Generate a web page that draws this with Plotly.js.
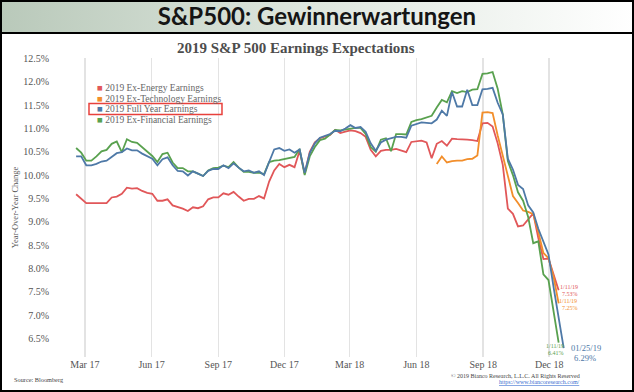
<!DOCTYPE html>
<html>
<head>
<meta charset="utf-8">
<script src="https://cdn.plot.ly/plotly-3.0.1.min.js"></script>
<style>
html,body{margin:0;padding:0;background:#ffffff;}
#wrap{position:relative;width:634px;height:392px;overflow:hidden;background:#ffffff;}
#hdr{position:absolute;left:0;top:0;width:634px;height:33px;background:linear-gradient(to right,#b9c9ba 0%,#dfe7df 50%,#ffffff 100%);}
#chart{position:absolute;left:0;top:0;width:634px;height:392px;}
#frame{position:absolute;left:0;top:0;width:634px;height:392px;box-sizing:border-box;border:2px solid #000;pointer-events:none;}
#hline{position:absolute;left:0;top:32px;width:634px;height:2px;background:#000;pointer-events:none;}
</style>
</head>
<body>
<div id="wrap"><div id="hdr"></div><div id="chart"></div><div id="frame"></div><div id="hline"></div></div>
<script>
// weekly observation dates
const weeks = [
 '2017-02-17','2017-02-24','2017-03-03','2017-03-10','2017-03-17','2017-03-24','2017-03-31','2017-04-07','2017-04-14','2017-04-21',
 '2017-04-28','2017-05-05','2017-05-12','2017-05-19','2017-05-26','2017-06-02','2017-06-09','2017-06-16','2017-06-23','2017-06-30',
 '2017-07-07','2017-07-14','2017-07-21','2017-07-28','2017-08-04','2017-08-11','2017-08-18','2017-08-25','2017-09-01','2017-09-08',
 '2017-09-15','2017-09-22','2017-09-29','2017-10-06','2017-10-13','2017-10-20','2017-10-27','2017-11-03','2017-11-10','2017-11-17',
 '2017-11-24','2017-12-01','2017-12-08','2017-12-15','2017-12-22','2017-12-29','2018-01-05','2018-01-12','2018-01-19','2018-01-26',
 '2018-02-02','2018-02-09','2018-02-16','2018-02-23','2018-03-02','2018-03-09','2018-03-16','2018-03-23','2018-03-30','2018-04-06',
 '2018-04-13','2018-04-20','2018-04-27','2018-05-04','2018-05-11','2018-05-18','2018-05-25','2018-06-01','2018-06-08','2018-06-15',
 '2018-06-22','2018-06-29','2018-07-06','2018-07-13','2018-07-20','2018-07-27','2018-08-03','2018-08-10','2018-08-17','2018-08-24',
 '2018-08-31','2018-09-07','2018-09-14','2018-09-21','2018-09-28','2018-10-05','2018-10-12','2018-10-19','2018-10-26','2018-11-02',
 '2018-11-09','2018-11-16','2018-11-23','2018-11-30','2018-12-07','2018-12-14','2018-12-21'
];

const exEnergy = [
 9.59,9.50,9.40,9.40,9.40,9.41,9.40,9.52,9.54,9.60,
 9.73,9.71,9.72,9.66,9.62,9.60,9.45,9.45,9.48,9.35,
 9.32,9.28,9.23,9.31,9.29,9.33,9.48,9.52,9.52,9.61,
 9.58,9.64,9.54,9.45,9.49,9.49,9.55,9.50,9.86,10.10,
 10.24,10.17,10.22,10.17,10.52,10.03,10.50,10.70,10.79,10.82,
 10.86,10.97,10.90,10.93,10.96,10.94,10.90,10.82,10.54,10.40,
 10.52,10.54,10.54,10.56,10.53,10.49,10.71,10.73,10.74,10.70,
 10.36,10.67,10.73,10.63,10.78,10.77,10.77,10.76,10.75,10.73,
 11.11,11.12,11.04,10.68,10.22,9.28,9.17,8.90,8.92,9.06,
 9.18,8.65,8.20,8.21,7.85,7.53,null
];

const exTechnology = [
 null,null,null,null,null,null,null,null,null,null,
 null,null,null,null,null,null,null,null,null,null,
 null,null,null,null,null,null,null,null,null,null,
 null,null,null,null,null,null,null,null,null,null,
 null,null,null,null,null,null,null,null,null,null,
 null,null,null,null,null,null,null,null,null,null,
 null,null,null,null,null,null,null,null,null,null,
 null,10.24,10.40,10.27,10.30,10.31,10.31,10.34,10.35,10.42,
 11.34,11.35,11.33,10.85,10.40,9.95,9.55,9.40,9.24,9.21,
 9.16,8.78,8.33,8.22,7.82,7.25,null
];

const fullYear = [
 10.40,10.40,10.21,10.21,10.24,10.29,10.31,10.40,10.47,10.49,
 10.57,10.53,10.53,10.46,10.40,10.35,10.21,10.34,10.38,10.21,
 10.09,10.08,9.99,10.08,10.03,9.98,10.09,10.13,10.13,10.21,
 10.15,10.25,10.16,10.08,10.10,10.05,10.08,10.00,10.28,10.55,
 10.58,10.52,10.55,10.48,10.55,10.05,10.47,10.68,10.80,10.84,
 10.88,10.95,10.94,11.00,11.07,11.01,11.03,10.93,10.68,10.52,
 10.70,10.76,10.79,10.82,10.82,10.80,11.06,11.10,11.13,11.12,
 11.11,11.19,11.38,11.27,11.78,11.47,11.47,11.83,11.50,11.50,
 11.84,11.85,11.87,11.55,11.30,10.35,10.12,9.79,9.70,9.35,
 9.20,8.85,8.58,8.30,7.60,6.95,6.29
];

const exFinancial = [
 10.58,10.48,10.31,10.31,10.40,10.51,10.54,10.67,10.72,10.49,
 10.77,10.71,10.69,10.60,10.50,10.41,10.28,10.45,10.48,10.27,
 10.15,10.15,10.08,10.08,10.03,9.98,10.10,10.15,10.16,10.20,
 10.17,10.28,10.16,10.07,10.07,10.05,10.05,10.02,10.28,10.31,
 10.32,10.34,10.36,10.39,10.56,10.00,10.40,10.60,10.75,10.78,
 10.87,10.97,10.96,10.98,10.99,11.01,11.01,10.88,10.60,10.50,
 10.76,10.79,10.51,10.88,10.88,10.87,11.14,11.18,11.20,11.23,
 11.27,11.45,11.61,11.56,11.80,11.76,11.80,11.78,11.83,11.84,
 12.17,12.18,12.21,11.85,11.30,10.30,10.00,9.63,9.45,9.10,
 8.54,8.58,7.87,7.75,7.08,6.41,null
];

const seriesNames = ['2019 Ex-Energy Earnings','2019 Ex-Technology Earnings','2019 Full Year Earnings','2019 Ex-Financial Earnings'];
const seriesColors = ['#e15759','#f28e2b','#4e79a7','#59a14f'];

const tickDates = ['2017-03-01','2017-06-01','2017-09-01','2017-12-01','2018-03-01','2018-06-01','2018-09-01','2018-12-01'];
const tickLabels = ['Mar 17','Jun 17','Sep 17','Dec 17','Mar 18','Jun 18','Sep 18','Dec 18'];

const endLabels = [
 {name:'2019 Ex-Energy Earnings', date:'1/11/19', value:'7.53%'},
 {name:'2019 Ex-Technology Earnings', date:'1/11/19', value:'7.25%'},
 {name:'2019 Ex-Financial Earnings', date:'1/11/19', value:'6.41%'},
 {name:'2019 Full Year Earnings', date:'01/25/19', value:'6.29%'}
];

const SERIF = 'Liberation Serif, Times New Roman, serif';

function mk(name, vals, color){
  return {type:'scatter', mode:'lines', name:name, x:weeks, y:vals,
    line:{color:color, width:1.8}, connectgaps:false, hoverinfo:'skip', showlegend:false};
}
const traces = [
  mk(seriesNames[0], exEnergy, seriesColors[0]),
  mk(seriesNames[1], exTechnology, seriesColors[1]),
  mk(seriesNames[3], exFinancial, seriesColors[3]),
  mk(seriesNames[2], fullYear, seriesColors[2])
];

function lastPoint(vals){
  for(let i=vals.length-1;i>=0;i--){ if(vals[i]!==null) return {x:weeks[i], y:vals[i]}; }
}

const annotations = [];
// chart title
annotations.push({xref:'paper', yref:'paper', x:0.448, y:1.032, xanchor:'center', yanchor:'middle', showarrow:false,
  text:'<b>2019 S&P 500 Earnings Expectations</b>', font:{family:SERIF, size:15, color:'#4d4d4d'}});
// legend (drawn as text lines with coloured squares)
const legY = [0.8997, 0.8645, 0.8294, 0.7943];
seriesNames.forEach((n,i)=>{
  annotations.push({xref:'paper', yref:'paper', x:0.0836, y:legY[i], xanchor:'left', yanchor:'middle', showarrow:false,
    borderpad:0, text:'<span style="color:'+seriesColors[i]+'">■</span> '+n, font:{family:SERIF, size:9.5, color:'#666666'}});
});
// end-point labels
const endSpec = [
  {vals:exEnergy, col:seriesColors[0], size:6, dx1:10.6, dy1:3.8, dx2:11.6, dy2:-3.4},
  {vals:exTechnology, col:seriesColors[1], size:6, dx1:9.5, dy1:2.3, dx2:11, dy2:-4.9},
  {vals:exFinancial, col:seriesColors[3], size:6, dx1:-3.4, dy1:-3, dx2:-3, dy2:-10.2},
  {vals:fullYear, col:seriesColors[2], size:8.5, dx1:22, dy1:0.1, dx2:21.5, dy2:-10.1}
];
endSpec.forEach((s,i)=>{
  const p = lastPoint(s.vals);
  annotations.push({x:p.x, y:p.y, xref:'x', yref:'y', showarrow:false, xanchor:'center', yanchor:'middle', borderpad:0,
    xshift:s.dx1, yshift:s.dy1, text:endLabels[i].date, font:{family:SERIF, size:s.size, color:s.col}});
  annotations.push({x:p.x, y:p.y, xref:'x', yref:'y', showarrow:false, xanchor:'center', yanchor:'middle', borderpad:0,
    xshift:s.dx2, yshift:s.dy2, text:endLabels[i].value, font:{family:SERIF, size:s.size, color:s.col}});
});
// footer texts
annotations.push({xref:'paper', yref:'paper', x:0.9655, y:-0.0619, xanchor:'right', yanchor:'middle', showarrow:false, borderpad:0,
  text:'© 2019 Bianco Research, L.L.C. All Rights Reserved', font:{family:SERIF, size:6, color:'#444444'}});
annotations.push({xref:'paper', yref:'paper', x:0.9655, y:-0.0835, xanchor:'right', yanchor:'middle', showarrow:false, borderpad:0,
  text:'<u>https://www.biancoresearch.com/</u>', font:{family:SERIF, size:6, color:'#3a6fd0'}});
annotations.push({xref:'paper', yref:'paper', x:-0.0696, y:-0.0736, xanchor:'left', yanchor:'middle', showarrow:false,
  text:'Source: Bloomberg', font:{family:SERIF, size:6.3, color:'#444444'}});

const layout = {
  width:634, height:392,
  margin:{l:50, r:34, t:58, b:35},
  paper_bgcolor:'rgba(0,0,0,0)',
  plot_bgcolor:'#ffffff',
  showlegend:false,
  title:{text:'<b>S&P500: Gewinnerwartungen</b>', xref:'container', yref:'container', x:0.5, y:0.957,
    xanchor:'center', yanchor:'middle', font:{family:'Lato, Noto Sans, sans-serif', size:24, color:'#151515'}},
  xaxis:{type:'date', range:['2017-01-12','2019-02-09'], tickvals:tickDates, ticktext:tickLabels,
    showgrid:true, gridcolor:'#e3e3e3', gridwidth:1.5, zeroline:false, showline:false, ticks:'',
    tickfont:{family:SERIF, size:10, color:'#555555'}, fixedrange:true},
  yaxis:{range:[6.10, 12.51], tick0:6.5, dtick:0.5, tickformat:'.1f', ticksuffix:'%',
    showgrid:false, zeroline:false, showline:false, ticks:'',
    tickfont:{family:SERIF, size:10, color:'#555555'},
    title:{text:'Year-Over-Year Change', font:{family:SERIF, size:8.5, color:'#555555'}, standoff:3}, fixedrange:true},
  shapes:[{type:'rect', xref:'paper', yref:'paper', x0:0.0709, x1:0.3127, y0:0.8110, y1:0.8478,
    line:{color:'#e8413c', width:1.5}, fillcolor:'rgba(0,0,0,0)'}],
  annotations:annotations
};

Plotly.newPlot('chart', traces, layout, {displayModeBar:false, staticPlot:true});
</script>
</body>
</html>
